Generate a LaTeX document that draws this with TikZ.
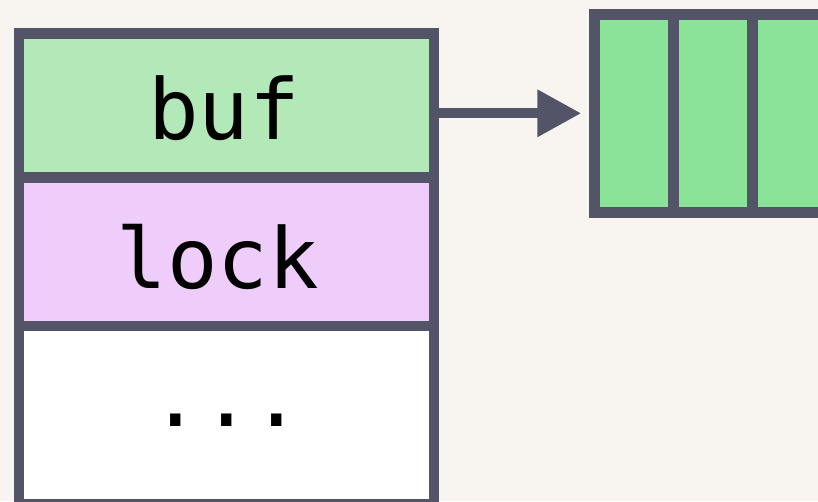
\documentclass[tikz,border=0pt]{standalone}
\usepackage{fontspec}
\setmonofont{DejaVu Sans Mono}
\usetikzlibrary{arrows.meta}
\definecolor{bgc}{HTML}{F8F5F0}
\definecolor{edgec}{HTML}{545469}
\definecolor{bufc}{HTML}{B3E9B8}
\definecolor{lockc}{HTML}{EFCDFB}
\definecolor{cellc}{HTML}{8AE396}
\tikzset{
  cellbox/.style={draw=edgec, line width=10.5pt, rectangle, inner sep=0pt, minimum width=415.4pt},
  slotbox/.style={draw=edgec, fill=cellc, line width=10.5pt, rectangle, inner sep=0pt, minimum width=79pt, minimum height=198pt},
  field/.style={anchor=base, inner sep=0pt, font=\ttfamily\fontsize{84}{100}\selectfont, text=black},
  ptr/.style={draw=edgec, line width=10pt, -{Triangle[length=44pt,width=45pt]}, shorten >=8pt}
}
\begin{document}
\begin{tikzpicture}[x=1pt,y=-1pt]
\fill[bgc] (0,0) rectangle (818,501);
\useasboundingbox (0,0) rectangle (818,501);
\node[cellbox, fill=bufc, minimum height=144.2pt] (buf) at (226.5,105.6) {};
\node[cellbox, fill=lockc, minimum height=148.1pt] (lock) at (226.5,251.75) {};
\node[cellbox, fill=white, minimum height=178.2pt] (rest) at (226.5,414.9) {};
\node[field] (buftext) at (224,139.5) {buf};
\node[field] (locktext) at (218,288.5) {lock};
\node[field] (resttext) at (226.5,426.5) {...};
\node[slotbox] (s1) at (634,113.3) {};
\node[slotbox] (s2) at (713,113.3) {};
\node[slotbox] (s3) at (792,113.3) {};
\coordinate (start) at (buf.east |- s1.west);
\draw[ptr] (start) -- (s1.west);
\end{tikzpicture}
\end{document}
